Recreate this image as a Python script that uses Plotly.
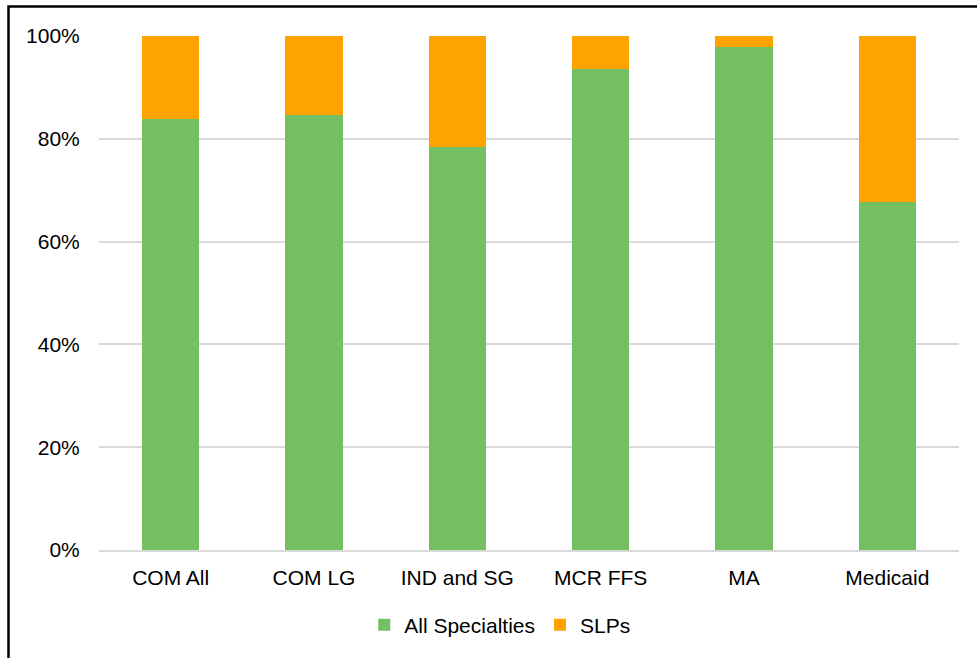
import plotly.graph_objects as go

categories = ["COM All", "COM LG", "IND and SG", "MCR FFS", "MA", "Medicaid"]
all_specialties = [83.9, 84.7, 78.4, 93.6, 97.9, 67.8]
slps = [round(100 - v, 1) for v in all_specialties]
y_ticks = [0, 20, 40, 60, 80, 100]
y_tick_labels = ["0%", "20%", "40%", "60%", "80%", "100%"]

GREEN = "#75BF63"
ORANGE = "#FFA300"
FONT = "Liberation Sans, Arial, sans-serif"

fig = go.Figure()
fig.add_trace(go.Bar(x=categories, y=all_specialties, name="All Specialties",
                     marker=dict(color=GREEN, line=dict(width=0))))
fig.add_trace(go.Bar(x=categories, y=slps, name="SLPs",
                     marker=dict(color=ORANGE, line=dict(width=0))))

fig.update_layout(
    width=977, height=658,
    barmode="stack", bargap=0.6,
    paper_bgcolor="white", plot_bgcolor="white",
    margin=dict(l=99, r=18, t=36, b=108),
    font=dict(family=FONT, size=21, color="#000000"),
    legend=dict(orientation="h", x=0.466, xanchor="center", y=-0.146, yanchor="middle",
                font=dict(size=21), traceorder="normal", itemwidth=30),
    xaxis=dict(showgrid=False, showline=True, linecolor="#D9D9D9", linewidth=2,
               ticks="outside", ticklen=8, tickcolor="rgba(0,0,0,0)",
               tickfont=dict(size=21)),
    yaxis=dict(range=[0, 100], tickvals=y_ticks, ticktext=y_tick_labels,
               showgrid=True, gridcolor="#D9D9D9", gridwidth=1.5,
               zeroline=False, showline=False,
               ticks="outside", ticklen=14, tickcolor="rgba(0,0,0,0)",
               tickfont=dict(size=21)),
    shapes=[dict(type="rect", xref="paper", yref="paper",
                 x0=(8.5 - 99) / 860, x1=2.0, y0=-1.0, y1=(550 - 6.5) / 514,
                 line=dict(color="black", width=2.5), fillcolor="rgba(0,0,0,0)",
                 layer="above")],
)

fig.write_html("out.html", config={"displayModeBar": False},
               post_script="document.body.style.margin='0';document.body.style.padding='0';")
